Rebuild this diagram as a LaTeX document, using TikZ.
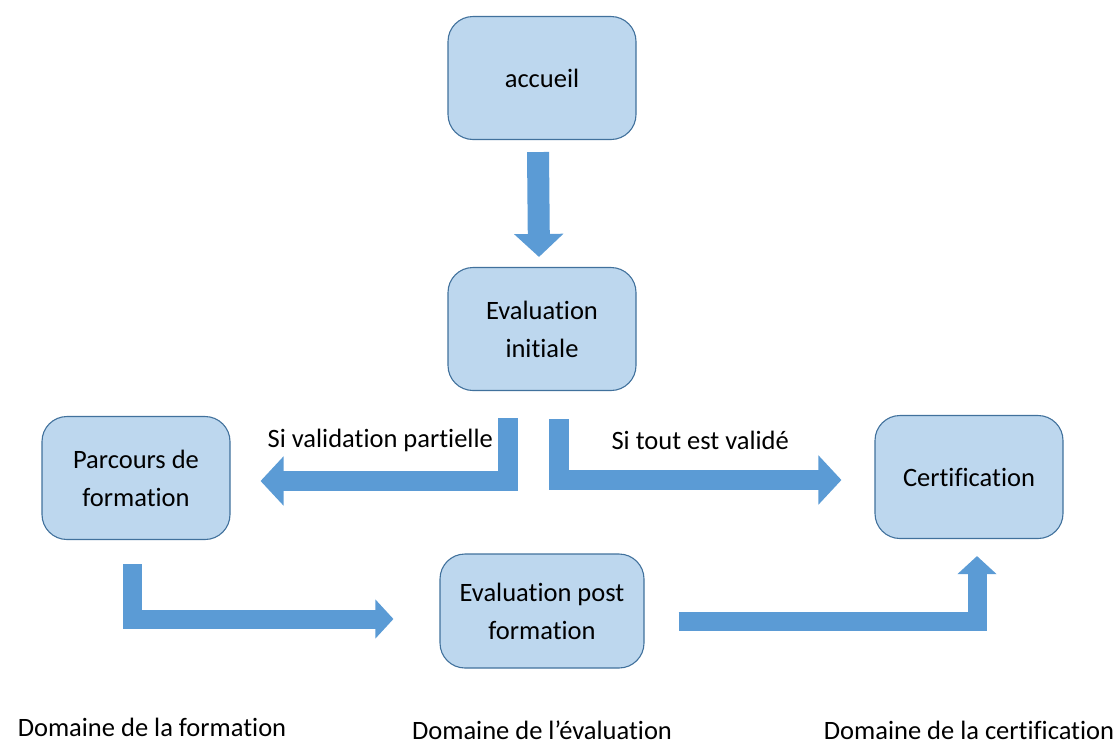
\documentclass[tikz,border=0pt]{standalone}
\usepackage{fontspec}
\setmainfont{Carlito}[Ligatures={NoCommon,NoRequired,NoContextual}]
\usetikzlibrary{arrows.meta,positioning}
\definecolor{boxfill}{HTML}{BDD7EE}
\definecolor{boxline}{HTML}{41719C}
\definecolor{arrowfill}{HTML}{5B9BD5}
\tikzset{
    stage/.style={
           rectangle,
           rounded corners=25pt,
           draw=boxline, line width=1.1pt,
           fill=boxfill,
           minimum height=123pt,
           minimum width=188pt,
           align=center,
           font=\fontsize{26.5}{38}\selectfont
           },
    flow/.style={
           draw=arrowfill, line width=20pt,
           -{Triangle[length=23pt,width=48pt]}
           },
    flowlow/.style={
           flow, line width=19pt,
           -{Triangle[length=18pt,width=38pt]}
           },
    cond/.style={
           font=\fontsize{26.5}{32}\selectfont
           },
    domainlabel/.style={
           inner sep=0pt,
           font=\fontsize{26.5}{32}\selectfont
           }
}
\begin{document}
\begin{tikzpicture}[node distance=2cm,on grid]
   \useasboundingbox (0pt,0pt) rectangle (1120pt,-745pt);
   \node[stage] (accueil) at (542pt,-78pt) {accueil};
   \node[stage] (init) [below=251pt of accueil] {Evaluation\\initiale};
   \node[stage] (parcours) [below left=149pt and 406pt of init] {Parcours de\\formation};
   \node[stage] (cert) [below right=148pt and 427pt of init] {Certification};
   \node[stage, minimum width=204pt, minimum height=114pt] (post) [below=282pt of init] {Evaluation post\\formation};
   % domaines
   \node[domainlabel] (dform) [below right=249pt and 16pt of parcours] {Domaine de la formation};
   \node[domainlabel] (deval) [below=119pt of post] {Domaine de l’évaluation};
   \node[domainlabel] (dcert) [below=253pt of cert] {Domaine de la certification};
   % fleches
   \draw[flow, line width=22pt] ([xshift=-4pt,yshift=-12pt]accueil.south) -- ([xshift=-3pt,yshift=10pt]init.north);
   \draw[flow] ([xshift=-34pt,yshift=-27pt]init.south) |- ([xshift=30pt,yshift=-3pt]parcours.east)
      node[cond, pos=0.75, yshift=41pt, xshift=-4pt] {Si validation partielle};
   \draw[flow] ([xshift=17pt,yshift=-28pt]init.south) |- ([xshift=-33pt,yshift=-3pt]cert.west)
      node[cond, pos=0.75, yshift=40pt] {Si tout est validé};
   \draw[flowlow] ([xshift=-4pt,yshift=-24pt]parcours.south) |- ([xshift=-46pt,yshift=-8pt]post.west);
   \draw[flowlow] ([xshift=34pt,yshift=-10pt]post.east) -| ([xshift=8pt,yshift=-17pt]cert.south);
\end{tikzpicture}
\end{document}
